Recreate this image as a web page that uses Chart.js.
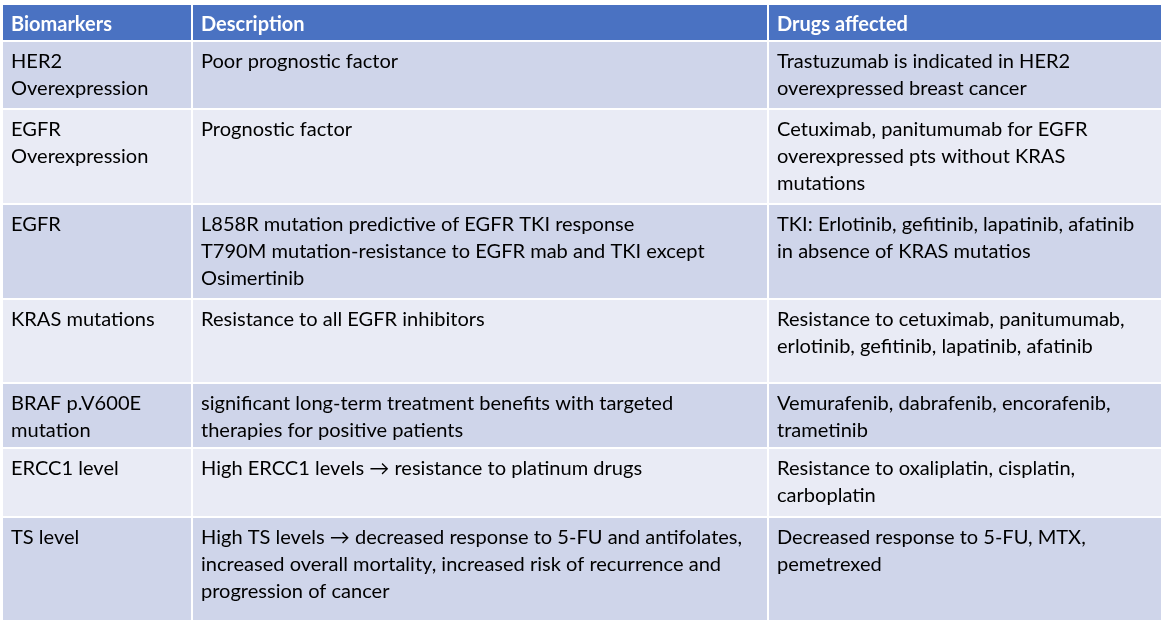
<!DOCTYPE html>
<html>
<head>
<meta charset="utf-8">
<script src="https://cdn.jsdelivr.net/npm/chart.js@4.4.1/dist/chart.umd.min.js"></script>
<style>
  html, body { margin: 0; background: #fff; }
  canvas { display: block; }
</style>
</head>
<body>
<canvas id="tabela" width="1164" height="624"></canvas>
<script>
// ─── DADOS ─────────────────────────────────────────────────────────────────
const headers = ['Biomarkers', 'Description', 'Drugs affected'];

const biomarkers = [
  ['HER2', 'Overexpression'],
  ['EGFR', 'Overexpression'],
  ['EGFR'],
  ['KRAS mutations'],
  ['BRAF p.V600E', 'mutation'],
  ['ERCC1 level'],
  ['TS level'],
];

const descriptions = [
  ['Poor prognostic factor'],
  ['Prognostic factor'],
  ['L858R mutation predictive of EGFR TKI response',
   'T790M mutation-resistance to EGFR mab and TKI except',
   'Osimertinib'],
  ['Resistance to all EGFR inhibitors'],
  ['significant long-term treatment benefits with targeted',
   'therapies for positive patients'],
  ['High ERCC1 levels \u2192 resistance to platinum drugs'],
  ['High TS levels \u2192 decreased response to 5-FU and antifolates,',
   'increased overall mortality, increased risk of recurrence and',
   'progression of cancer'],
];

const drugs = [
  ['Trastuzumab is indicated in HER2', 'overexpressed breast cancer'],
  ['Cetuximab, panitumumab for EGFR', 'overexpressed pts without KRAS', 'mutations'],
  ['TKI: Erlotinib, gefitinib, lapatinib, afatinib', 'in absence of KRAS mutatios'],
  ['Resistance to cetuximab, panitumumab,', 'erlotinib, gefitinib, lapatinib, afatinib'],
  ['Vemurafenib, dabrafenib, encorafenib,', 'trametinib'],
  ['Resistance to oxaliplatin, cisplatin,', 'carboplatin'],
  ['Decreased response to 5-FU, MTX,', 'pemetrexed'],
];

const columns = [biomarkers, descriptions, drugs];

// ─── LAYOUT (unidades da escala) ───────────────────────────────────────────
const colEdges = [3, 192, 768, 1161];
const rowEdges = [5, 41, 109, 204, 299, 383, 448, 517, 620];
const GAP      = 1;
const PAD_X    = 8;
const FIRST_Y  = 20;
const LINE_H   = 27;
const HEAD_DY  = 2;

const COR_HEADER = '#4A72C2';
const COR_ESCURA = '#CFD5EA';
const COR_CLARA  = '#E9EBF5';
const FONTE      = 'Lato, "Noto Sans", sans-serif';

let sizeNormal = 20;
let sizeBold   = 20;

function fitFonts(ctx) {
  ctx.font = `20px ${FONTE}`;
  const w = ctx.measureText('T790M mutation-resistance to EGFR mab and TKI except').width;
  sizeNormal = 20 * 504 / w;
  ctx.font = `bold 20px ${FONTE}`;
  const wb = ctx.measureText('Drugs affected').width;
  sizeBold = 20 * 131 / wb;
}

// ─── PLUGIN DA TABELA ──────────────────────────────────────────────────────
const tablePlugin = {
  id: 'tabela',
  beforeDatasetsDraw(chart) {
    const { ctx, scales: { x, y } } = chart;
    fitFonts(ctx);
    ctx.save();

    const nRows = rowEdges.length - 1;
    for (let r = 0; r < nRows; r++) {
      const top = rowEdges[r] + (r > 0 ? GAP : 0);
      const bot = rowEdges[r + 1] - (r < nRows - 1 ? GAP : 0);
      const fill = r === 0 ? COR_HEADER : (r % 2 === 1 ? COR_ESCURA : COR_CLARA);

      for (let c = 0; c < 3; c++) {
        const left  = colEdges[c] + (c > 0 ? GAP : 0);
        const right = colEdges[c + 1] - (c < 2 ? GAP : 0);
        const px0 = x.getPixelForValue(left);
        const px1 = x.getPixelForValue(right);
        const py0 = y.getPixelForValue(top);
        const py1 = y.getPixelForValue(bot);
        ctx.fillStyle = fill;
        ctx.fillRect(px0, py0, px1 - px0, py1 - py0);

        ctx.textAlign = 'left';
        ctx.textBaseline = 'middle';
        const tx = x.getPixelForValue(left + PAD_X);

        if (r === 0) {
          ctx.fillStyle = '#FFFFFF';
          ctx.font = `bold ${sizeBold}px ${FONTE}`;
          ctx.fillText(headers[c], tx, y.getPixelForValue((top + bot) / 2 + HEAD_DY));
        } else {
          ctx.fillStyle = '#000000';
          ctx.font = `${sizeNormal}px ${FONTE}`;
          const lines = columns[c][r - 1];
          lines.forEach((ln, i) => {
            ctx.fillText(ln, tx, y.getPixelForValue(top + FIRST_Y + i * LINE_H));
          });
        }
      }
    }
    ctx.restore();
  },
};

new Chart(document.getElementById('tabela'), {
  type: 'scatter',
  data: { datasets: [] },
  options: {
    responsive: false,
    animation: false,
    devicePixelRatio: 1,
    layout: { padding: 0 },
    plugins: { legend: { display: false }, tooltip: { enabled: false } },
    scales: {
      x: { type: 'linear', min: 0, max: 1164, display: false },
      y: { type: 'linear', min: 0, max: 624, reverse: true, display: false },
    },
  },
  plugins: [tablePlugin],
});
</script>
</body>
</html>
